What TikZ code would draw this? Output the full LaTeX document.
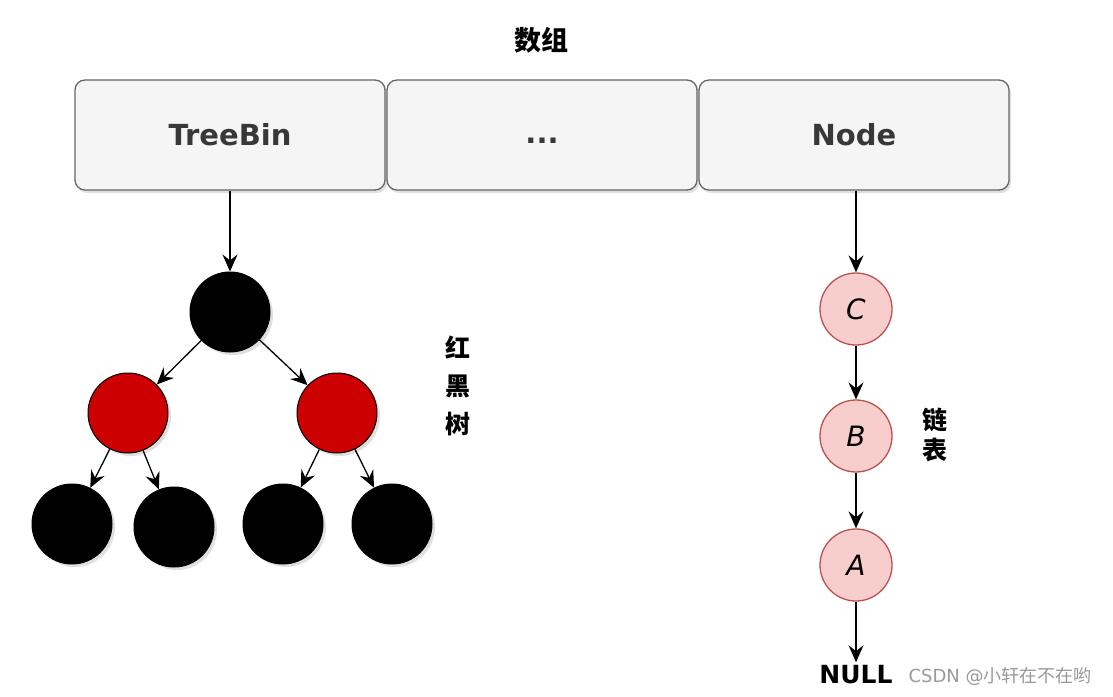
\documentclass[tikz,border=0pt]{standalone}
\usepackage{fontspec}
\setmainfont{DejaVu Sans}
\newfontfamily\cjk{Noto Sans CJK SC}
\usetikzlibrary{shadows,arrows.meta}
\definecolor{boxfill}{HTML}{F5F5F5}
\definecolor{boxline}{HTML}{666666}
\definecolor{rbred}{HTML}{CC0000}
\definecolor{llfill}{HTML}{F8CECC}
\definecolor{llline}{HTML}{B85450}
\tikzset{
  arr/.style={-{Stealth[length=17pt,width=15pt,inset=6pt]},line width=1.3pt,black},
  cell/.style={draw=boxline,fill=boxfill,line width=1.3pt,rounded corners=10pt,minimum width=310pt,minimum height=110pt,inner sep=0pt,drop shadow={opacity=0.25,shadow xshift=2pt,shadow yshift=-3pt},font=\bfseries\fontsize{29}{32}\selectfont,text=black!78},
  rbn/.style={circle,draw=black,line width=1pt,minimum size=80pt,inner sep=0pt,drop shadow={opacity=0.25,shadow xshift=3pt,shadow yshift=-3pt}},
  blk/.style={rbn,fill=black},
  redn/.style={rbn,fill=rbred},
  lln/.style={circle,draw=llline,fill=llfill,line width=1.3pt,minimum size=72pt,inner sep=0pt,font=\fontsize{28}{30}\selectfont\itshape},
  cjklab/.style={font=\cjk\bfseries\fontsize{25}{38}\selectfont,align=center}
}
\begin{document}
\begin{tikzpicture}[x=1pt,y=-1pt]
\useasboundingbox (0,0) rectangle (1113,696);
\node[font=\cjk\bfseries\fontsize{27}{30}\selectfont] (title) at (541,40) {数组};
\node[cell] (treebin) at (230,135) {TreeBin};
\node[cell] (dots) at (542,135) {};
\node[font=\bfseries\fontsize{29}{32}\selectfont,text=black!78] (dotstext) at (542,141) {...};
\node[cell] (nodebox) at (854,135) {Node};
% red-black tree
\node[blk] (root) at (230,312) {};
\node[redn] (r1) at (128,413) {};
\node[redn] (r2) at (337,413) {};
\node[blk] (l1) at (72,524) {};
\node[blk] (l2) at (174,527) {};
\node[blk] (l3) at (283,524) {};
\node[blk] (l4) at (392,524) {};
\draw[arr] (treebin.south -| root) -- (root.north);
\draw[arr] (root) -- (r1);
\draw[arr] (root) -- (r2);
\draw[arr] (r1) -- (l1);
\draw[arr] (r1) -- (l2);
\draw[arr] (r2) -- (l3);
\draw[arr] (r2) -- (l4);
\node[cjklab] (rbt) at (458,386) {红\\黑\\树};
% linked list
\node[lln] (c) at (856,309) {C};
\node[lln] (b) at (856,436) {B};
\node[lln] (a) at (856,565) {A};
\node[font=\bfseries\fontsize{25}{27}\selectfont] (null) at (856,675) {NULL};
\draw[arr] (nodebox.south -| c) -- (c.north);
\draw[arr] (c) -- (b);
\draw[arr] (b) -- (a);
\draw[arr] (a) -- (null);
\node[cjklab,font=\cjk\bfseries\fontsize{25}{30}\selectfont] (ll) at (935,435) {链\\表};
\node[font=\fontsize{18}{20}\selectfont,text=black!40,anchor=west] (wm) at (905,676) {CSDN @{\cjk 小轩在不在哟}};
\end{tikzpicture}
\end{document}
